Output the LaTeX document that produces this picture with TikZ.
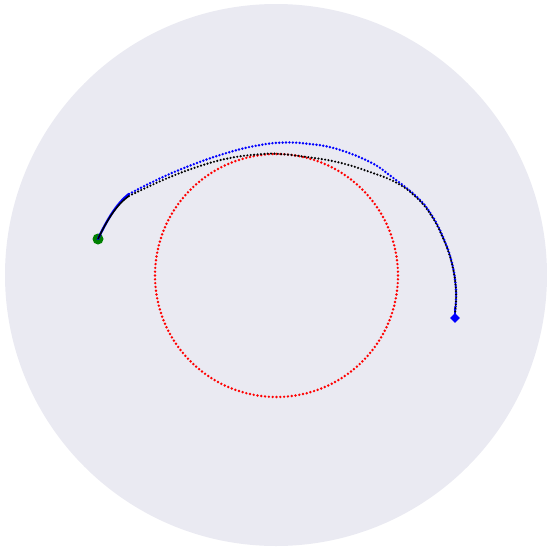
\documentclass[tikz,border=0pt]{standalone}
\usetikzlibrary{shapes.geometric,calc}
\definecolor{bgdisk}{RGB}{234,234,242}
\definecolor{startgreen}{RGB}{0,128,0}
\tikzset{
  dotline/.style={line width=2.7pt, line cap=round, dash pattern=on 0pt off 3.4pt},
  solidseg/.style={line width=2.4pt, line cap=round},
}
\begin{document}
\begin{tikzpicture}[x=1pt,y=-1pt]
\useasboundingbox (0,0) rectangle (546,551);
\fill[bgdisk] (276,275) circle (271);
% red circle of dots
\foreach \i in {0,...,199} {
  \fill[red] ($(276.5,275.5)+(\i*1.8:121.5)$) circle (1.35);
}
\node[circle, fill=startgreen, inner sep=0pt, minimum size=11pt] (start) at (98,239) {};
\node[diamond, fill=blue, inner sep=0pt, minimum size=10pt] (goal) at (455,318) {};
% blue trajectory
\draw[blue, solidseg] (start.center) .. controls (106,222) and (116,204) .. (129,194);
\draw[blue, dotline] plot[smooth, tension=0.7] coordinates {(129,194) (163,177) (197,163) (230,152) (260,145) (285,142.5) (310,144) (337,149) (370,162) (392,177) (417,197) (431,214) (443,237) (452,263) (456,290) (455,312)};
\draw[blue, solidseg] (455,308) -- (goal.center);
% black trajectory
\draw[black, line width=1.5pt] (start.center) .. controls (106,222) and (116,205) .. (129,196);
\draw[black, dotline, line width=2.4pt] plot[smooth, tension=0.7] coordinates {(129,196) (163,180) (197,167) (230,158) (263,154) (280,154) (303,156.5) (337,162) (370,172) (397,183) (417,198) (431,215) (443,238) (452,264) (456,291) (455,314)};
\end{tikzpicture}
\end{document}
